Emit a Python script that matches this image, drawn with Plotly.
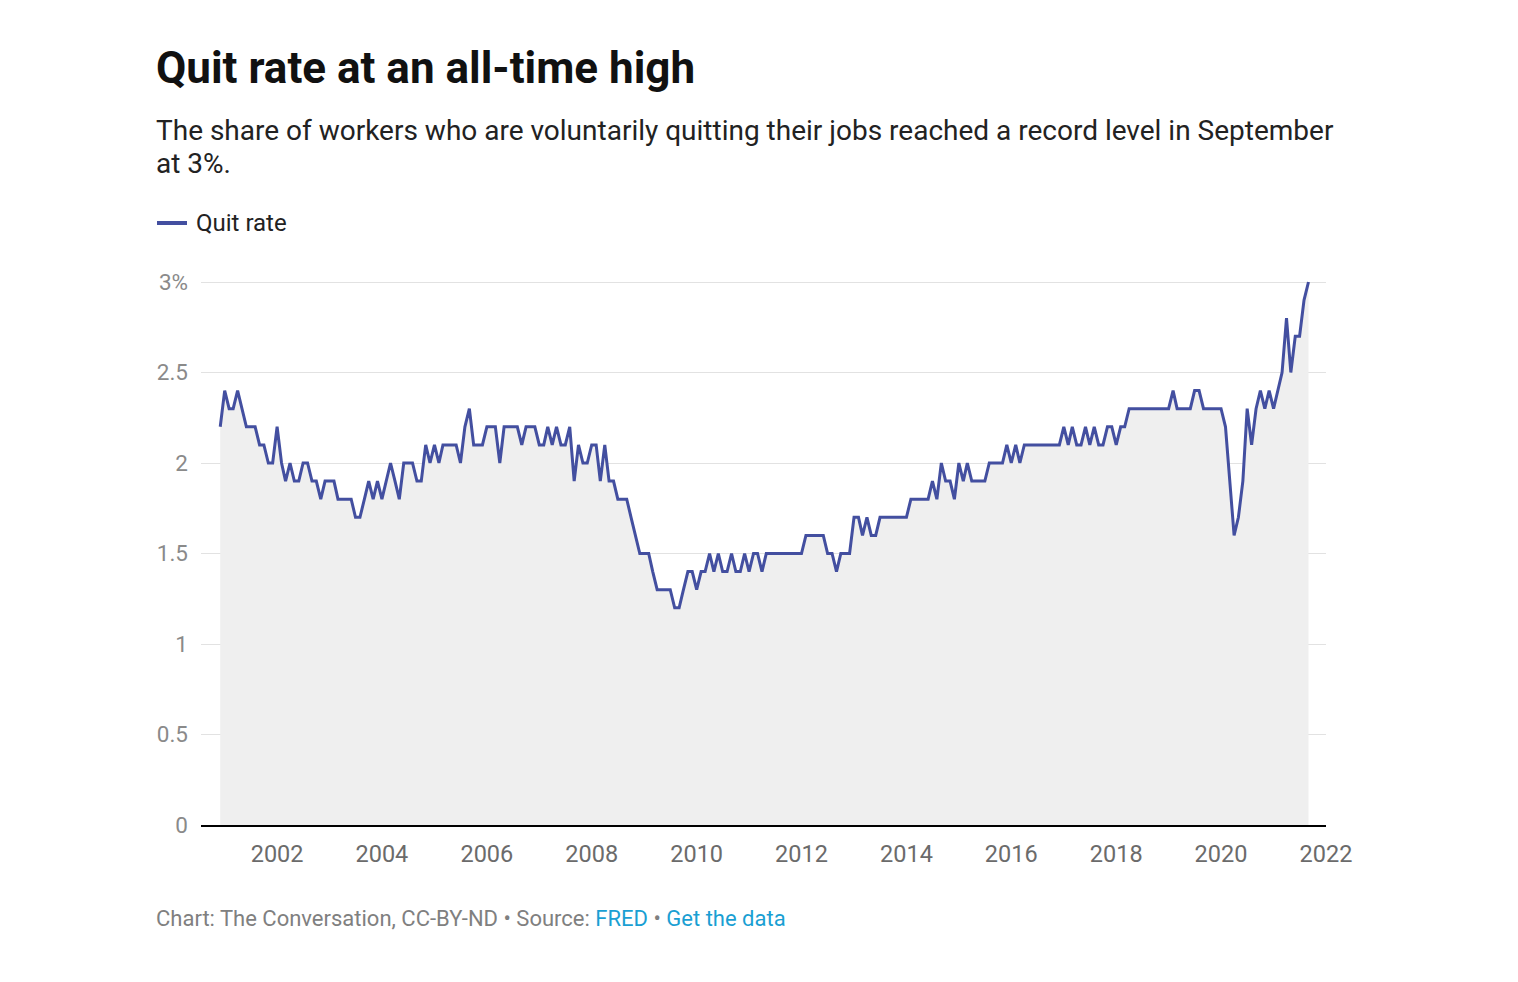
import pandas as pd
import plotly.graph_objects as go

# Monthly quit rate (%), Dec 2000 - Sep 2021
q2000 = [2.2]
q2001 = [2.4, 2.3, 2.3, 2.4, 2.3, 2.2, 2.2, 2.2, 2.1, 2.1, 2.0, 2.0]
q2002 = [2.2, 2.0, 1.9, 2.0, 1.9, 1.9, 2.0, 2.0, 1.9, 1.9, 1.8, 1.9]
q2003 = [1.9, 1.9, 1.8, 1.8, 1.8, 1.8, 1.7, 1.7, 1.8, 1.9, 1.8, 1.9]
q2004 = [1.8, 1.9, 2.0, 1.9, 1.8, 2.0, 2.0, 2.0, 1.9, 1.9, 2.1, 2.0]
q2005 = [2.1, 2.0, 2.1, 2.1, 2.1, 2.1, 2.0, 2.2, 2.3, 2.1, 2.1, 2.1]
q2006 = [2.2, 2.2, 2.2, 2.0, 2.2, 2.2, 2.2, 2.2, 2.1, 2.2, 2.2, 2.2]
q2007 = [2.1, 2.1, 2.2, 2.1, 2.2, 2.1, 2.1, 2.2, 1.9, 2.1, 2.0, 2.0]
q2008 = [2.1, 2.1, 1.9, 2.1, 1.9, 1.9, 1.8, 1.8, 1.8, 1.7, 1.6, 1.5]
q2009 = [1.5, 1.5, 1.4, 1.3, 1.3, 1.3, 1.3, 1.2, 1.2, 1.3, 1.4, 1.4]
q2010 = [1.3, 1.4, 1.4, 1.5, 1.4, 1.5, 1.4, 1.4, 1.5, 1.4, 1.4, 1.5]
q2011 = [1.4, 1.5, 1.5, 1.4, 1.5, 1.5, 1.5, 1.5, 1.5, 1.5, 1.5, 1.5]
q2012 = [1.5, 1.6, 1.6, 1.6, 1.6, 1.6, 1.5, 1.5, 1.4, 1.5, 1.5, 1.5]
q2013 = [1.7, 1.7, 1.6, 1.7, 1.6, 1.6, 1.7, 1.7, 1.7, 1.7, 1.7, 1.7]
q2014 = [1.7, 1.8, 1.8, 1.8, 1.8, 1.8, 1.9, 1.8, 2.0, 1.9, 1.9, 1.8]
q2015 = [2.0, 1.9, 2.0, 1.9, 1.9, 1.9, 1.9, 2.0, 2.0, 2.0, 2.0, 2.1]
q2016 = [2.0, 2.1, 2.0, 2.1, 2.1, 2.1, 2.1, 2.1, 2.1, 2.1, 2.1, 2.1]
q2017 = [2.2, 2.1, 2.2, 2.1, 2.1, 2.2, 2.1, 2.2, 2.1, 2.1, 2.2, 2.2]
q2018 = [2.1, 2.2, 2.2, 2.3, 2.3, 2.3, 2.3, 2.3, 2.3, 2.3, 2.3, 2.3]
q2019 = [2.3, 2.4, 2.3, 2.3, 2.3, 2.3, 2.4, 2.4, 2.3, 2.3, 2.3, 2.3]
q2020 = [2.3, 2.2, 1.9, 1.6, 1.7, 1.9, 2.3, 2.1, 2.3, 2.4, 2.3, 2.4]
q2021 = [2.3, 2.4, 2.5, 2.8, 2.5, 2.7, 2.7, 2.9, 3.0]

quit_rate = (q2000 + q2001 + q2002 + q2003 + q2004 + q2005 + q2006 + q2007
             + q2008 + q2009 + q2010 + q2011 + q2012 + q2013 + q2014 + q2015
             + q2016 + q2017 + q2018 + q2019 + q2020 + q2021)
months = pd.date_range("2000-12-01", periods=len(quit_rate), freq="MS")

x_tick_years = [2002, 2004, 2006, 2008, 2010, 2012, 2014, 2016, 2018, 2020, 2022]
y_tick_vals = [0, 0.5, 1, 1.5, 2, 2.5, 3]
y_tick_text = ["0", "0.5", "1", "1.5", "2", "2.5", "3%"]

W, H = 1518, 982
L, R, T, B = 201, 192, 277, 157
PW, PH = W - L - R, H - T - B


def px(xp):
    return (xp - L) / PW


def py(yp):
    return (H - B - yp) / PH


LINE = "#434fa0"
FONT = "Roboto, sans-serif"

fig = go.Figure()
fig.add_trace(go.Scatter(
    x=months, y=quit_rate, mode="lines",
    line=dict(color=LINE, width=3),
    fill="tozeroy", fillcolor="#efefef",
    hoverinfo="skip", showlegend=False,
))

fig.update_layout(
    width=W, height=H,
    margin=dict(l=L, r=R, t=T, b=B, pad=0),
    paper_bgcolor="white", plot_bgcolor="white",
    font=dict(family=FONT),
    xaxis=dict(
        type="date",
        range=["2000-07-20", "2022-01-01"],
        tickvals=[f"{y}-01-01" for y in x_tick_years],
        ticktext=[str(y) for y in x_tick_years],
        tickfont=dict(size=23.5, color="#6b6b6b", family=FONT),
        showgrid=False, zeroline=False,
        showline=True, linecolor="#000000", linewidth=2,
        ticks="", ticklabelstandoff=7,
        fixedrange=True,
    ),
    yaxis=dict(
        range=[0, PH / 181.0],
        tickvals=y_tick_vals, ticktext=y_tick_text,
        tickfont=dict(size=22.5, color="#8a8a8a", family=FONT),
        showgrid=True, gridcolor="#e2e2e2", gridwidth=1,
        zeroline=False, showline=False, ticks="",
        ticklabelstandoff=12,
        fixedrange=True,
    ),
)

annotations = [
    dict(text="<b>Quit rate at an all-time high</b>", x=px(154), y=py(68),
         xanchor="left", yanchor="middle",
         font=dict(size=44, color="#111111", family=FONT)),
    dict(text="The share of workers who are voluntarily quitting their jobs reached a record level in September",
         x=px(154), y=py(131), xanchor="left", yanchor="middle", align="left",
         font=dict(size=28, color="#222222", family=FONT)),
    dict(text="at 3%.",
         x=px(154), y=py(164), xanchor="left", yanchor="middle", align="left",
         font=dict(size=28, color="#222222", family=FONT)),
    dict(text="Quit rate", x=px(194), y=py(223), xanchor="left", yanchor="middle",
         font=dict(size=24, color="#222222", family=FONT)),
    dict(text=("Chart: The Conversation, CC-BY-ND • Source: "
               "<span style='color:#1a9fd3'>FRED</span> • "
               "<span style='color:#1a9fd3'>Get the data</span>"),
         x=px(154), y=py(918), xanchor="left", yanchor="middle",
         font=dict(size=22, color="#808080", family=FONT)),
]
for a in annotations:
    a.update(xref="paper", yref="paper", showarrow=False)
fig.update_layout(annotations=annotations)

fig.add_shape(type="line", xref="paper", yref="paper",
              x0=px(157), x1=px(187), y0=py(223), y1=py(223),
              line=dict(color=LINE, width=4))

fig.write_html("out.html")
